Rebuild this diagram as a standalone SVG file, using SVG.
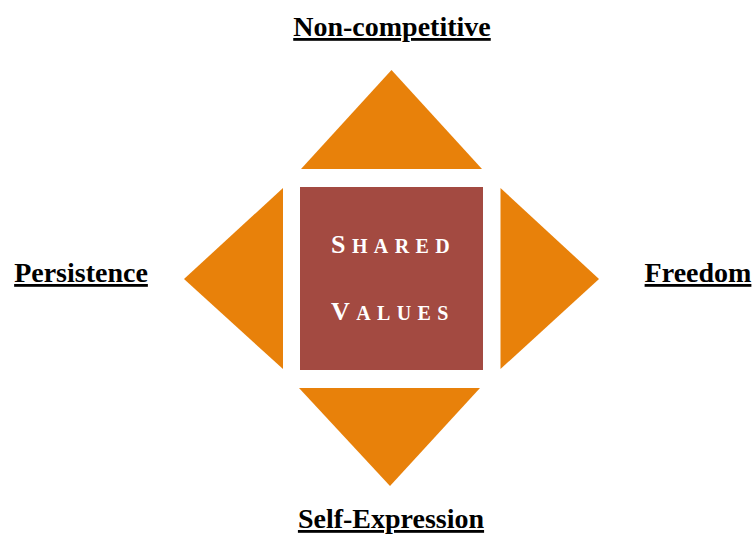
<svg xmlns="http://www.w3.org/2000/svg" width="753" height="535" viewBox="0 0 753 535">
  <style>
    .arrow { fill: #E8810A; }
    .core { fill: #A34A41; }
    .label { font-family: "Liberation Serif", "Times New Roman", serif; font-weight: bold; font-size: 28px; fill: #000; text-decoration: underline; }
    .title { font-family: "Liberation Serif", "Times New Roman", serif; font-weight: bold; fill: #fff; letter-spacing: 6.4px; }
    .big { font-size: 26px; }
    .small { font-size: 20px; }
  </style>
  <rect width="753" height="535" fill="#fff"/>

  <!-- central square -->
  <g id="shared-values">
    <rect class="core" x="300" y="187" width="183" height="183"/>
    <text class="title" x="331" y="253"><tspan class="big">S</tspan><tspan class="small">HARED</tspan></text>
    <text class="title" x="331" y="320"><tspan class="big">V</tspan><tspan class="small">ALUES</tspan></text>
  </g>

  <!-- four pointing triangles -->
  <g id="non-competitive">
    <polygon class="arrow" points="391.5,70 482,169 301,169"/>
    <text class="label" x="392" y="36" text-anchor="middle">Non-competitive</text>
  </g>
  <g id="self-expression">
    <polygon class="arrow" points="299,388 480,388 390,486"/>
    <text class="label" x="391" y="528" text-anchor="middle">Self-Expression</text>
  </g>
  <g id="persistence">
    <polygon class="arrow" points="283,188 283,369 184,279"/>
    <text class="label" x="81" y="282" text-anchor="middle">Persistence</text>
  </g>
  <g id="freedom">
    <polygon class="arrow" points="500.5,188 599,279 500.5,369"/>
    <text class="label" x="698" y="282" text-anchor="middle">Freedom</text>
  </g>
</svg>
